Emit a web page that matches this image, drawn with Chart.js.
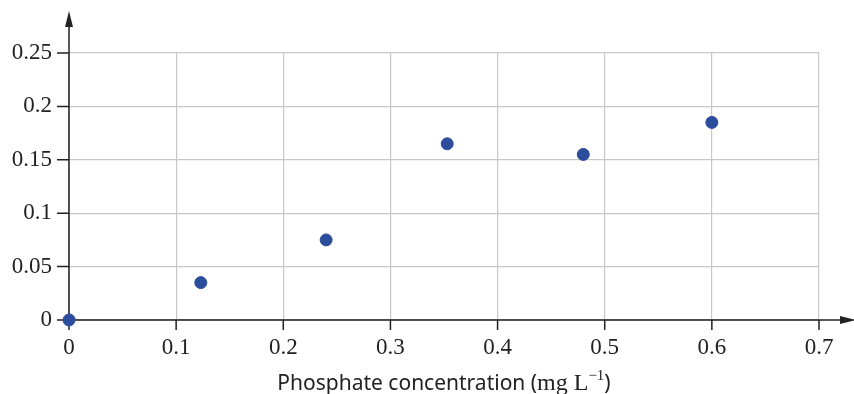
<!DOCTYPE html>
<html>
<head>
<meta charset="utf-8">
<script src="https://cdn.jsdelivr.net/npm/chart.js@4"></script>
<style>
  html, body { margin: 0; padding: 0; background: #fff; }
  #wrap { width: 854px; height: 394px; }
</style>
</head>
<body>
<div id="wrap"><canvas id="myChart"></canvas></div>
<script>
// phosphate concentration (mg/L) vs measured value
var concentration = [0, 0.123, 0.24, 0.353, 0.48, 0.6];
var absorbance = [0, 0.035, 0.075, 0.165, 0.155, 0.185];
var xTicks = [0, 0.1, 0.2, 0.3, 0.4, 0.5, 0.6, 0.7];
var yTicks = [0, 0.05, 0.1, 0.15, 0.2, 0.25];

var points = [];
concentration.forEach((c, i) => {
    points.push({ x: c, y: absorbance[i] });
});

var axisColor = "#222";
var serif = "'Liberation Serif', 'Times New Roman', serif";
var sans = "'Noto Sans', 'Open Sans', sans-serif";

// draws both axes with arrows and the little tick marks
var axesPlugin = {
    id: "axes",
    afterDatasetsDraw(chart) {
        var ctx = chart.ctx;
        var xs = chart.scales.x;
        var ys = chart.scales.y;
        var x0 = xs.getPixelForValue(0);
        var y0 = ys.getPixelForValue(0);
        ctx.save();
        ctx.strokeStyle = axisColor;
        ctx.fillStyle = axisColor;
        ctx.lineWidth = 1.5;

        ctx.beginPath();
        ctx.moveTo(x0, y0 + 10);
        ctx.lineTo(x0, 20);
        ctx.moveTo(x0 - 7, y0);
        ctx.lineTo(845, y0);
        xTicks.forEach((t) => {
            var px = xs.getPixelForValue(t);
            ctx.moveTo(px, y0);
            ctx.lineTo(px, y0 + 10);
        });
        yTicks.forEach((t) => {
            var py = ys.getPixelForValue(t);
            ctx.moveTo(x0 - 12, py);
            ctx.lineTo(x0, py);
        });
        ctx.stroke();

        // arrow heads
        ctx.beginPath();
        ctx.moveTo(x0, 11);
        ctx.lineTo(x0 - 4, 27);
        ctx.lineTo(x0 + 4, 27);
        ctx.closePath();
        ctx.fill();
        ctx.beginPath();
        ctx.moveTo(856, y0);
        ctx.lineTo(840, y0 - 4);
        ctx.lineTo(840, y0 + 4);
        ctx.closePath();
        ctx.fill();

        // the zero point sits on top of the axes
        var meta = chart.getDatasetMeta(0);
        meta.data[0].draw(ctx);

        // x axis title, mixed fonts like the original
        var parts = [
            { t: "Phosphate concentration (", f: "21px " + sans, dy: 0 },
            { t: "mg L", f: "24px " + serif, dy: 0 },
            { t: "\u22121", f: "15px " + serif, dy: -10 },
            { t: ")", f: "21px " + sans, dy: 0 },
        ];
        var total = 0;
        parts.forEach((p) => {
            ctx.font = p.f;
            p.w = ctx.measureText(p.t).width;
            total += p.w;
        });
        var cx = (chart.chartArea.left + chart.chartArea.right) / 2;
        var tx = cx - total / 2;
        ctx.fillStyle = axisColor;
        ctx.textBaseline = "alphabetic";
        ctx.textAlign = "left";
        parts.forEach((p) => {
            ctx.font = p.f;
            ctx.fillText(p.t, tx, 390 + p.dy);
            tx += p.w;
        });
        ctx.restore();
    },
};

var chart = new Chart(document.getElementById("myChart"), {
    type: "scatter",
    data: {
        datasets: [
            {
                data: points,
                backgroundColor: "#2b4d9b",
                borderColor: "#2b4d9b",
                pointRadius: 6,
                pointHoverRadius: 6,
            },
        ],
    },
    options: {
        responsive: true,
        maintainAspectRatio: false,
        animation: false,
        layout: {
            padding: { top: 53, right: 35, left: 0, bottom: 0 },
        },
        plugins: {
            legend: { display: false },
            tooltip: { enabled: false },
        },
        scales: {
            x: {
                type: "linear",
                min: 0,
                max: 0.7,
                afterBuildTicks: (axis) => {
                    axis.ticks = xTicks.map((v) => ({ value: v }));
                },
                afterFit: (axis) => {
                    axis.height = 74;
                },
                border: { display: false },
                grid: { color: "#c8c8c8", lineWidth: 1.2, drawTicks: false },
                ticks: {
                    padding: 14,
                    maxRotation: 0,
                    autoSkip: false,
                    color: axisColor,
                    font: { family: serif, size: 23 },
                    callback: (v) => String(Math.round(v * 10) / 10),
                },
            },
            y: {
                type: "linear",
                min: 0,
                max: 0.25,
                afterBuildTicks: (axis) => {
                    axis.ticks = yTicks.map((v) => ({ value: v }));
                },
                afterFit: (axis) => {
                    axis.width = 69;
                },
                border: { display: false },
                grid: { color: "#c8c8c8", lineWidth: 1.2, drawTicks: false },
                ticks: {
                    padding: 17,
                    color: axisColor,
                    font: { family: serif, size: 23 },
                    callback: (v) => String(Math.round(v * 100) / 100),
                },
            },
        },
    },
    plugins: [axesPlugin],
});
</script>
</body>
</html>
